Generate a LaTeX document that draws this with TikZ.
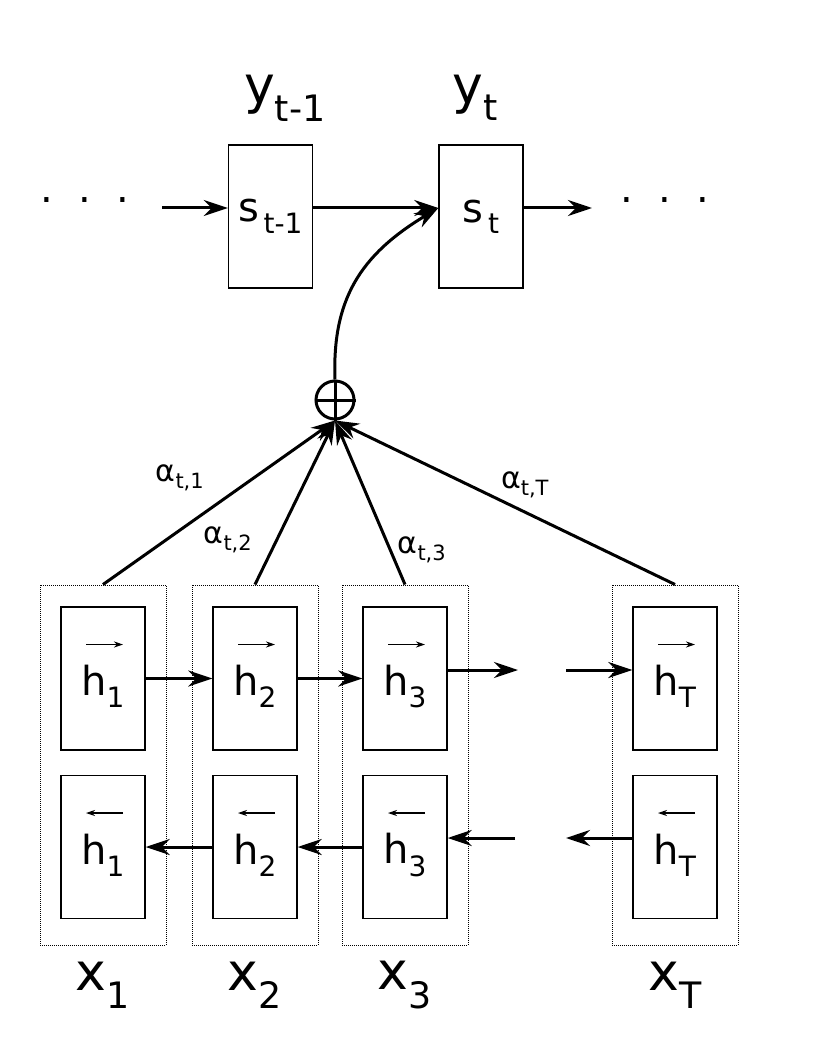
\documentclass[tikz,border=0pt]{standalone}
\usepackage{fontspec}
\setmainfont{DejaVu Sans}
\usetikzlibrary{arrows.meta}
\begin{document}
\begin{tikzpicture}[x=1pt,y=-1pt,
  box/.style={draw,line width=1.4pt,minimum width=84pt,minimum height=143pt,inner sep=0pt},
  dbox/.style={draw,densely dotted,line width=1pt,minimum width=126pt,minimum height=360pt,inner sep=0pt},
  ar/.style={line width=3pt,-{Stealth[length=24pt,width=16pt]}},
  big/.style={font=\fontsize{52}{52}\selectfont},
  hb/.style={font=\fontsize{40}{40}\selectfont},
  al/.style={font=\fontsize{30}{30}\selectfont}]
\useasboundingbox (0,0) rectangle (828,1056);
% decoder
\node[box] (sp) at (270.5,216.5) {};
\node[box] (st) at (481,216.5) {};
\node[hb] at (270.5,216.5) {s\textsubscript{\,t-1}};
\node[hb] at (481,216.5) {s\textsubscript{\,t}};
\node[big] at (285,98) {y\textsubscript{t-1}};
\node[big] at (475,98) {y\textsubscript{t}};
\node[hb] at (85,200) {.\ \ .\ \ .};
\node[hb] at (665,200) {.\ \ .\ \ .};
\coordinate (l0) at (162,208);
\coordinate (r0) at (592,208);
\draw[ar] (l0) -- (sp.west|-l0);
\draw[ar] (sp.east|-l0) -- (st.west|-l0);
\draw[ar] (st.east|-r0) -- (r0);
% oplus
\node[circle,draw,line width=3pt,minimum size=38pt,inner sep=0pt] (op) at (335,400) {};
\draw[line width=3pt] (op.north) -- (op.south) (op.west) -- (op.east);
\draw[ar] (op.north) .. controls (332,300) and (360,255) .. (st.west|-l0);
% encoder columns
\foreach \n/\x/\lab in {1/103/1,2/255/2,3/405/3,T/675/T}{
  \node[dbox] (d\n) at (\x,765) {};
  \node[box] (f\n) at (\x,678.5) {};
  \node[box] (b\n) at (\x,847) {};
  \node[hb] at ([yshift=-8pt]f\n.center) {h\textsubscript{\lab}};
  \node[hb] at ([yshift=-8pt]b\n.center) {h\textsubscript{\lab}};
  \draw[line width=1.3pt,-{Stealth[length=9pt,width=6pt]}] ([xshift=-17pt,yshift=34pt]f\n.center) -- ([xshift=20pt,yshift=34pt]f\n.center);
  \draw[line width=1.3pt,-{Stealth[length=9pt,width=6pt]}] ([xshift=20pt,yshift=34pt]b\n.center) -- ([xshift=-17pt,yshift=34pt]b\n.center);
  \node[big] at (\x,985) {x\textsubscript{\lab}};
  \draw[ar] (d\n.north) -- (op.south);
}
\draw[ar] (f1.east) -- (f2.west);
\draw[ar] (f2.east) -- (f3.west);
\coordinate (fa) at (518,670); \coordinate (fb) at (566,670);
\draw[ar] (f3.east|-fa) -- (fa);
\draw[ar] (fb) -- (fT.west|-fb);
\draw[ar] (b2.west) -- (b1.east);
\draw[ar] (b3.west) -- (b2.east);
\coordinate (ba) at (515,838); \coordinate (bb) at (566,838);
\draw[ar] (ba) -- (b3.east|-ba);
\draw[ar] (bT.west|-bb) -- (bb);
% alpha labels
\node[al] at (180,478) {α\textsubscript{t,1}};
\node[al] at (228,540) {α\textsubscript{t,2}};
\node[al] at (422,550) {α\textsubscript{t,3}};
\node[al] at (525,485) {α\textsubscript{t,T}};
\end{tikzpicture}
\end{document}
